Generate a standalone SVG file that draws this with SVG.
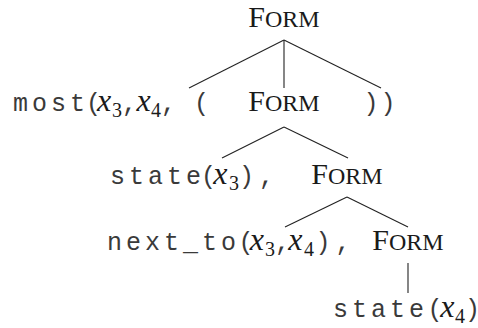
<svg xmlns="http://www.w3.org/2000/svg" width="478" height="328" viewBox="0 0 478 328">
<style>
text{font-family:"Liberation Serif",serif;fill:#1a1a1a}
.m{font-family:"Liberation Mono",monospace;font-size:25px;fill:#3a3a3a}
.w{letter-spacing:4px}
.p{letter-spacing:-5px}
.mi{font-family:"Liberation Serif",serif;font-style:italic;font-size:32px;fill:#1a1a1a}
.sub{font-family:"Liberation Serif",serif;font-size:20px;fill:#1a1a1a}
.sc{font-size:30px;text-anchor:middle}
.sc tspan{font-size:24px}
.e line{stroke:#222;stroke-width:1.1}
</style>
<g id="edges" class="e">
<line x1="284" y1="40" x2="189" y2="88"/>
<line x1="284" y1="40" x2="284" y2="88"/>
<line x1="284" y1="40" x2="381" y2="88"/>
<line x1="284" y1="127" x2="222" y2="158"/>
<line x1="284" y1="127" x2="348" y2="158"/>
<line x1="347" y1="197" x2="285" y2="227"/>
<line x1="347" y1="197" x2="408" y2="227"/>
<line x1="408" y1="263" x2="408" y2="293"/>
</g>
<g id="form1"><text class="sc" x="284" y="27">F<tspan>ORM</tspan></text></g>
<g id="most">
<text><tspan class="m w" x="13" y="111">mos</tspan><tspan class="m" x="70" y="111">t</tspan><tspan class="m p" x="86" y="111">(</tspan><tspan class="mi" x="97" y="111">x</tspan><tspan class="sub" x="112" y="117">3</tspan><tspan class="m p" x="122" y="111">,</tspan><tspan class="mi" x="136.5" y="111">x</tspan><tspan class="sub" x="151" y="117">4</tspan><tspan class="m p" x="161" y="111">,</tspan><tspan class="m p" x="194" y="111">(</tspan></text>
</g>
<g id="form2"><text class="sc" x="284" y="111">F<tspan>ORM</tspan></text></g>
<g id="close"><text><tspan class="m p" x="363.5" y="111">)</tspan><tspan class="m" x="380.5" y="111">)</tspan></text></g>
<g id="state3">
<text><tspan class="m w" x="110" y="184">stat</tspan><tspan class="m" x="186" y="184">e</tspan><tspan class="m p" x="201" y="184">(</tspan><tspan class="mi" x="213.3" y="184">x</tspan><tspan class="sub" x="229" y="190">3</tspan><tspan class="m p" x="239" y="184">)</tspan><tspan class="m" x="259" y="184">,</tspan></text>
</g>
<g id="form3"><text class="sc" x="347" y="184">F<tspan>ORM</tspan></text></g>
<g id="nextto">
<text><tspan class="m w" x="107" y="250">next_t</tspan><tspan class="m" x="221" y="250">o</tspan><tspan class="m p" x="238.5" y="250">(</tspan><tspan class="mi" x="249.8" y="250">x</tspan><tspan class="sub" x="265" y="256">3</tspan><tspan class="m p" x="275" y="250">,</tspan><tspan class="mi" x="288.3" y="250">x</tspan><tspan class="sub" x="304" y="256">4</tspan><tspan class="m p" x="315.5" y="250">)</tspan><tspan class="m" x="335.5" y="250">,</tspan></text>
</g>
<g id="form4"><text class="sc" x="408" y="250">F<tspan>ORM</tspan></text></g>
<g id="state4">
<text><tspan class="m w" x="333" y="317">stat</tspan><tspan class="m" x="409" y="317">e</tspan><tspan class="m p" x="427.5" y="317">(</tspan><tspan class="mi" x="440.3" y="317">x</tspan><tspan class="sub" x="455" y="323">4</tspan><tspan class="m p" x="465" y="317">)</tspan></text>
</g>
</svg>
